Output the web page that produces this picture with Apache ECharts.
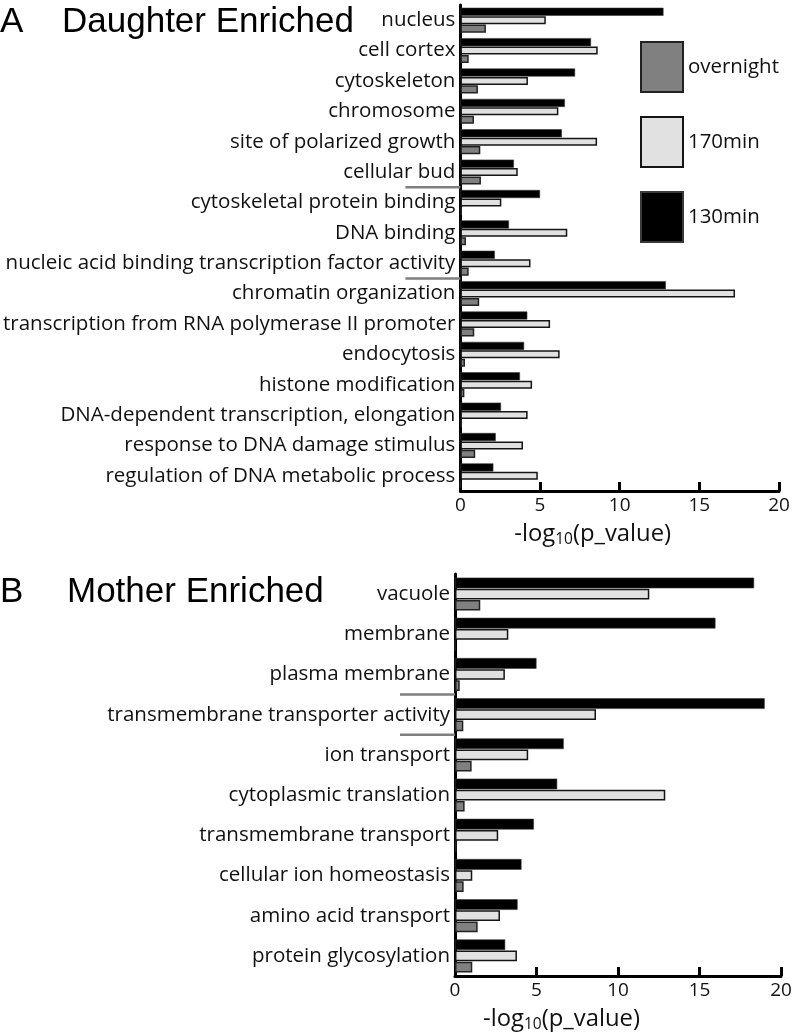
<!DOCTYPE html>
<html>
<head>
<meta charset="utf-8">
<script src="https://cdn.jsdelivr.net/npm/echarts@6/dist/echarts.min.js"></script>
<style>
html,body{margin:0;padding:0;background:#fff;}
#chart{width:796px;height:1033px;}
</style>
</head>
<body>
<div id="chart"></div>
<script>
// ---- Data ----
const categoriesA = [
  'nucleus', 'cell cortex', 'cytoskeleton', 'chromosome', 'site of polarized growth', 'cellular bud',
  'cytoskeletal protein binding', 'DNA binding', 'nucleic acid binding transcription factor activity',
  'chromatin organization', 'transcription from RNA polymerase II promoter', 'endocytosis',
  'histone modification', 'DNA-dependent transcription, elongation', 'response to DNA damage stimulus',
  'regulation of DNA metabolic process'
];
const a130min    = [12.75, 8.2, 7.2, 6.56, 6.37, 3.36, 5.0, 3.05, 2.16, 12.9, 4.2, 4.0, 3.74, 2.55, 2.22, 2.07];
const a170min    = [5.36, 8.62, 4.24, 6.15, 8.58, 3.6, 2.57, 6.71, 4.4, 17.24, 5.63, 6.23, 4.5, 4.22, 3.93, 4.86];
const aOvernight = [1.6, 0.52, 1.1, 0.85, 1.25, 1.29, 0.1, 0.35, 0.52, 1.18, 0.87, 0.29, 0.25, 0.1, 0.93, 0];

const categoriesB = [
  'vacuole', 'membrane', 'plasma membrane', 'transmembrane transporter activity', 'ion transport',
  'cytoplasmic translation', 'transmembrane transport', 'cellular ion homeostasis',
  'amino acid transport', 'protein glycosylation'
];
const b130min    = [18.35, 15.98, 5.0, 19.0, 6.67, 6.27, 4.84, 4.08, 3.84, 3.08];
const b170min    = [11.92, 3.27, 3.06, 8.65, 4.49, 12.9, 2.65, 1.06, 2.76, 3.8];
const bOvernight = [1.55, 0, 0.29, 0.51, 1.02, 0.59, 0.1, 0.53, 1.39, 1.06];

// category boundaries separating GO term groups (index of the category just below the line)
const separatorsA = [6, 9];
const separatorsB = [3, 4];

const legendOrder = ['overnight', '170min', '130min'];
const xTickMin = 0, xTickMax = 20, xTickStep = 5;

// ---- Styles ----
const labelFont = 'Open Sans';
const titleFont = 'Liberation Sans';
const styles = {
  '130min':    { color: '#000000', borderColor: '#3a3a3a', borderWidth: 0.6 },
  '170min':    { color: '#e1e1e1', borderColor: '#151515', borderWidth: 1.5 },
  'overnight': { color: '#808080', borderColor: '#222222', borderWidth: 1.5 }
};

// font sizes fitted to the reference text widths
const mctx = document.createElement('canvas').getContext('2d');
function textW(text, size) { mctx.font = size + 'px "' + labelFont + '"'; return mctx.measureText(text).width; }
function fitSize(text, target) { return 100 * target / textW(text, 100); }
const labelSize  = fitSize('nucleic acid binding transcription factor activity', 450);
const legendSize = fitSize('overnight', 91);
const tickSize   = fitSize('20', 21.7);
const nameSize   = 100 * 157 / (textW('-log(p_value)', 100) + 0.65 * textW('10', 100));
const subSize    = nameSize * 0.65;

function xAxisCfg(gridIndex, padRight) {
  return {
    type: 'value', gridIndex, min: xTickMin, max: xTickMax, interval: xTickStep,
    splitLine: { show: false },
    axisLine: { show: true, lineStyle: { color: '#000', width: 3 } },
    axisTick: { show: true, inside: true, length: 9, lineStyle: { color: '#000', width: 3 } },
    axisLabel: { fontFamily: labelFont, fontSize: tickSize, color: '#111', margin: 5 },
    name: '{a|-log}{b|10}{a|(p_value)}',
    nameLocation: 'middle', nameGap: 27,
    nameTextStyle: {
      padding: [0, padRight, 0, 0],
      rich: {
        a: { fontFamily: labelFont, fontSize: nameSize, color: '#111', lineHeight: nameSize * 1.2, verticalAlign: 'bottom' },
        b: { fontFamily: labelFont, fontSize: subSize, color: '#111', lineHeight: subSize * 1.05, verticalAlign: 'bottom' }
      }
    }
  };
}
function yAxisCfg(gridIndex, cats) {
  return {
    type: 'category', gridIndex, data: cats, inverse: true,
    axisLine: { show: true, onZero: false, lineStyle: { color: '#000', width: 3 } },
    axisTick: { show: false },
    axisLabel: { fontFamily: labelFont, fontSize: labelSize, color: '#111', margin: 5 }
  };
}
function barSeries(name, data, idx) {
  return {
    type: 'bar', name, data, xAxisIndex: idx, yAxisIndex: idx,
    barCategoryGap: '18%', barGap: '4%',
    itemStyle: styles[name]
  };
}
const titleStyle = { fontFamily: titleFont, fontSize: 35, fontWeight: 'normal', color: '#000' };

const chart = echarts.init(document.getElementById('chart'), null, { renderer: 'canvas' });
chart.setOption({
  animation: false,
  backgroundColor: '#fff',
  title: [
    { text: 'A', left: 0, top: 5, padding: 0, textStyle: titleStyle },
    { text: 'Daughter Enriched', left: 62, top: 5, padding: 0, textStyle: titleStyle },
    { text: 'B', left: 0, top: 575, padding: 0, textStyle: titleStyle },
    { text: 'Mother Enriched', left: 67, top: 575, padding: 0, textStyle: titleStyle }
  ],
  legend: {
    data: legendOrder, orient: 'vertical', left: 640, top: 41, padding: 0,
    itemWidth: 42, itemHeight: 50, itemGap: 23, icon: 'rect',
    textStyle: { fontFamily: labelFont, fontSize: legendSize, color: '#111' },
    selectedMode: false
  },
  grid: [
    { left: 457, right: 17, top: 5, height: 486, containLabel: false },
    { left: 455, right: 15, top: 574, height: 402, containLabel: false }
  ],
  xAxis: [xAxisCfg(0, 54), xAxisCfg(1, 113)],
  yAxis: [yAxisCfg(0, categoriesA), yAxisCfg(1, categoriesB)],
  series: [
    barSeries('130min', a130min, 0),
    barSeries('170min', a170min, 0),
    barSeries('overnight', aOvernight, 0),
    barSeries('130min', b130min, 1),
    barSeries('170min', b170min, 1),
    barSeries('overnight', bOvernight, 1)
  ]
});

// group separators: short grey strokes at category boundaries, positioned via the axis scale
function separatorLines(axisIdx, seps) {
  const x0 = chart.convertToPixel({ xAxisIndex: axisIdx }, 0);
  return seps.map(i => {
    const y = (chart.convertToPixel({ yAxisIndex: axisIdx }, i - 1) + chart.convertToPixel({ yAxisIndex: axisIdx }, i)) / 2;
    return { type: 'line', silent: true, z: 10,
      shape: { x1: x0 - 55, y1: y, x2: x0, y2: y },
      style: { stroke: '#7f7f7f', lineWidth: 2.5 } };
  });
}
chart.setOption({ graphic: separatorLines(0, separatorsA).concat(separatorLines(1, separatorsB)) });
</script>
</body>
</html>
